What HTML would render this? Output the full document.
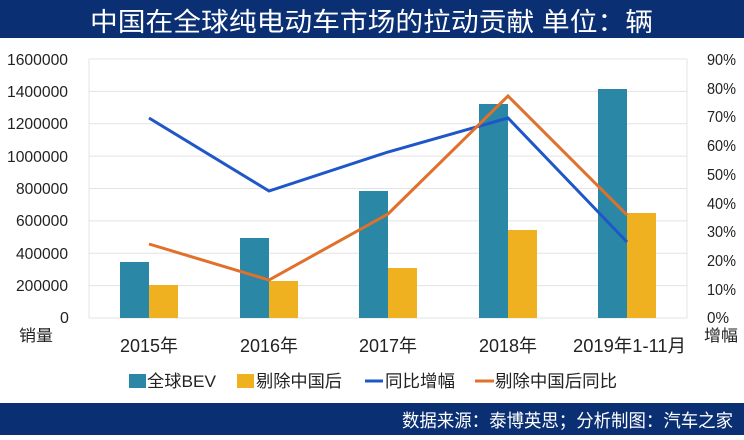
<!DOCTYPE html>
<html><head><meta charset="utf-8"><style>
body{margin:0;width:744px;height:435px;background:#fff;overflow:hidden;font-family:"Liberation Sans","Noto Sans CJK SC",sans-serif}
</style></head><body>
<svg width="744" height="435" xmlns="http://www.w3.org/2000/svg" font-family="Liberation Sans, Noto Sans CJK SC, sans-serif">
<rect x="0" y="0" width="744" height="38" fill="#0b2f73"/>
<text x="90" y="31" font-size="26" fill="#fff" textLength="563" lengthAdjust="spacingAndGlyphs">中国在全球纯电动车市场的拉动贡献  单位：辆</text>
<g stroke="#e3e3e3" stroke-width="1">
<line x1="89" y1="59" x2="687" y2="59"/><line x1="89" y1="91.4" x2="687" y2="91.4"/><line x1="89" y1="123.8" x2="687" y2="123.8"/><line x1="89" y1="156.1" x2="687" y2="156.1"/><line x1="89" y1="188.5" x2="687" y2="188.5"/><line x1="89" y1="220.9" x2="687" y2="220.9"/><line x1="89" y1="253.3" x2="687" y2="253.3"/><line x1="89" y1="285.6" x2="687" y2="285.6"/><line x1="89" y1="318" x2="687" y2="318"/>
<line x1="89" y1="59" x2="89" y2="318"/><line x1="687" y1="59" x2="687" y2="318"/>
</g>
<g fill="#2a88a6">
<rect x="120" y="262" width="29" height="56"/><rect x="240" y="238" width="29" height="80"/><rect x="359" y="191" width="29" height="127"/><rect x="479" y="104" width="29" height="214"/><rect x="598" y="89" width="29" height="229"/>
</g>
<g fill="#f0b121">
<rect x="149" y="285" width="29" height="33"/><rect x="269" y="281" width="29" height="37"/><rect x="388" y="268" width="29" height="50"/><rect x="508" y="230" width="29" height="88"/><rect x="627" y="213" width="29" height="105"/>
</g>
<polyline points="149,118 269,191 388,152 508,118 627,242" fill="none" stroke="#1f57c8" stroke-width="3"/>
<polyline points="149,244 269,280 388,214 508,96 627,215" fill="none" stroke="#e0702a" stroke-width="3"/>
<g font-size="16" fill="#222">
<text x="7" y="65" textLength="61" lengthAdjust="spacingAndGlyphs">1600000</text>
<text x="7" y="97" textLength="61" lengthAdjust="spacingAndGlyphs">1400000</text>
<text x="7" y="129" textLength="61" lengthAdjust="spacingAndGlyphs">1200000</text>
<text x="7" y="162" textLength="61" lengthAdjust="spacingAndGlyphs">1000000</text>
<text x="16" y="194" textLength="52" lengthAdjust="spacingAndGlyphs">800000</text>
<text x="16" y="226" textLength="52" lengthAdjust="spacingAndGlyphs">600000</text>
<text x="16" y="259" textLength="52" lengthAdjust="spacingAndGlyphs">400000</text>
<text x="16" y="291" textLength="52" lengthAdjust="spacingAndGlyphs">200000</text>
<text x="60" y="323">0</text>
</g>
<g font-size="16" fill="#222">
<text x="707" y="65" textLength="29" lengthAdjust="spacingAndGlyphs">90%</text><text x="707" y="94" textLength="29" lengthAdjust="spacingAndGlyphs">80%</text><text x="707" y="122" textLength="29" lengthAdjust="spacingAndGlyphs">70%</text><text x="707" y="151" textLength="29" lengthAdjust="spacingAndGlyphs">60%</text><text x="707" y="180" textLength="29" lengthAdjust="spacingAndGlyphs">50%</text><text x="707" y="209" textLength="29" lengthAdjust="spacingAndGlyphs">40%</text><text x="707" y="237" textLength="29" lengthAdjust="spacingAndGlyphs">30%</text><text x="707" y="266" textLength="29" lengthAdjust="spacingAndGlyphs">20%</text><text x="707" y="295" textLength="29" lengthAdjust="spacingAndGlyphs">10%</text><text x="707" y="323" textLength="22" lengthAdjust="spacingAndGlyphs">0%</text>
<text x="704" y="341" textLength="34" lengthAdjust="spacingAndGlyphs">增幅</text>
<text x="19" y="341" textLength="34" lengthAdjust="spacingAndGlyphs">销量</text>
</g>
<g font-size="18" fill="#222">
<text x="120" y="352" textLength="58" lengthAdjust="spacingAndGlyphs">2015年</text>
<text x="240" y="352" textLength="58" lengthAdjust="spacingAndGlyphs">2016年</text>
<text x="359" y="352" textLength="58" lengthAdjust="spacingAndGlyphs">2017年</text>
<text x="479" y="352" textLength="58" lengthAdjust="spacingAndGlyphs">2018年</text>
<text x="573" y="352" textLength="113" lengthAdjust="spacingAndGlyphs">2019年1-11月</text>
</g>
<g font-size="17" fill="#222">
<rect x="129" y="374" width="17" height="14" fill="#2a88a6"/><text x="147" y="387" textLength="69" lengthAdjust="spacingAndGlyphs">全球BEV</text>
<rect x="237" y="374" width="17" height="14" fill="#f0b121"/><text x="256" y="387" textLength="86" lengthAdjust="spacingAndGlyphs">剔除中国后</text>
<line x1="365" y1="381" x2="383" y2="381" stroke="#1f57c8" stroke-width="3"/><text x="385" y="387" textLength="70" lengthAdjust="spacingAndGlyphs">同比增幅</text>
<line x1="475" y1="381" x2="494" y2="381" stroke="#e0702a" stroke-width="3"/><text x="495" y="387" textLength="122" lengthAdjust="spacingAndGlyphs">剔除中国后同比</text>
</g>
<rect x="0" y="403" width="744" height="32" fill="#0b2f73"/>
<text x="402" y="427" font-size="18" fill="#fff" textLength="331" lengthAdjust="spacingAndGlyphs">数据来源：泰博英思；分析制图：汽车之家</text>
</svg>
</body></html>
